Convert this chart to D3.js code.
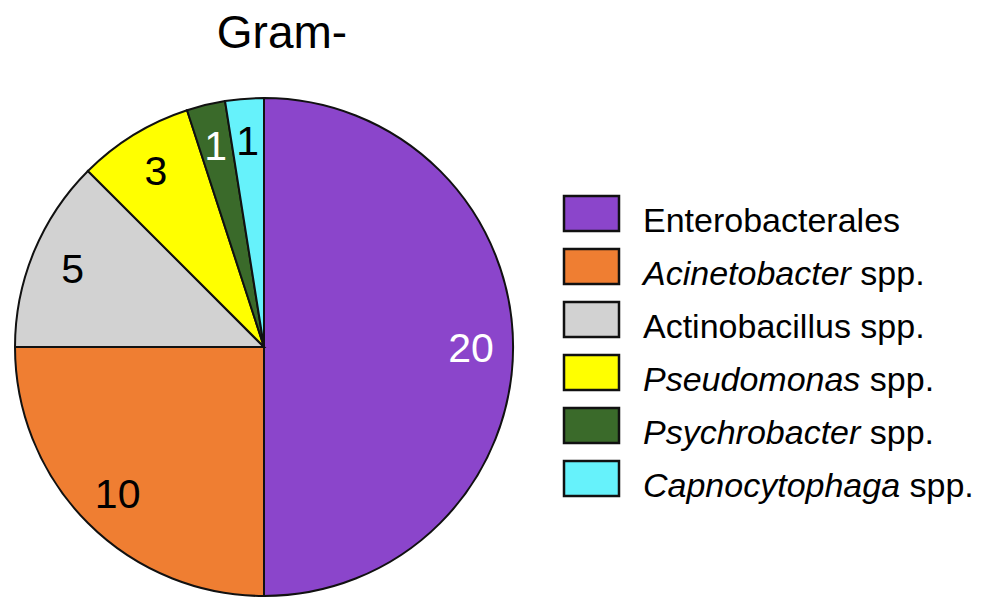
<!DOCTYPE html>
<html>
<head>
<meta charset="utf-8">
<script src="https://d3js.org/d3.v7.min.js"></script>
<style>
  body { margin: 0; background: #fff; }
  svg { font-family: Arial, "Liberation Sans", sans-serif; }
</style>
</head>
<body>
<svg id="chart" width="1000" height="615"></svg>
<script>
// data
const names = ["Enterobacterales", "Acinetobacter", "Actinobacillus", "Pseudomonas", "Psychrobacter", "Capnocytophaga"];
const italic = [false, true, false, true, true, true];
const counts = [20, 10, 5, 3, 1, 1];
const colors = ["#8b45cb", "#ef7e32", "#d2d2d2", "#ffff00", "#3a6a2a", "#66f2fb"];
const labelColors = ["#fff", "#000", "#000", "#000", "#fff", "#000"];

const svg = d3.select("#chart");
const cx = 264, cy = 347, r = 249;

svg.append("text")
    .attr("x", 282).attr("y", 48)
    .attr("text-anchor", "middle")
    .attr("font-size", 46)
    .text("Gram-");

const pie = d3.pie().sort(null).value(d => d)(counts);
const arc = d3.arc().innerRadius(0).outerRadius(r);
const labelArc = d3.arc().innerRadius(207).outerRadius(207);

const g = svg.append("g").attr("transform", `translate(${cx},${cy})`);

g.selectAll("path")
    .data(pie)
    .enter()
    .append("path")
    .attr("d", arc)
    .attr("fill", (d, i) => colors[i])
    .attr("stroke", "#111")
    .attr("stroke-width", 2);

g.selectAll("text.lbl")
    .data(pie)
    .enter()
    .append("text")
    .attr("class", "lbl")
    .attr("transform", d => `translate(${labelArc.centroid(d)})`)
    .attr("text-anchor", "middle")
    .attr("dy", "0.36em")
    .attr("font-size", 41)
    .attr("fill", (d, i) => labelColors[i])
    .text(d => d.data);

// legend
const y = d3.scaleBand().domain(d3.range(names.length)).range([196, 514]);
const leg = svg.selectAll("g.leg")
    .data(names)
    .enter()
    .append("g")
    .attr("class", "leg")
    .attr("transform", (d, i) => `translate(564,${y(i)})`);

leg.append("rect")
    .attr("width", 55).attr("height", 35)
    .attr("fill", (d, i) => colors[i])
    .attr("stroke", "#111")
    .attr("stroke-width", 2.5);

const t = leg.append("text")
    .attr("x", 79).attr("y", 36)
    .attr("font-size", 34);
t.append("tspan")
    .attr("font-style", (d, i) => italic[i] ? "italic" : "normal")
    .text(d => d);
t.append("tspan")
    .text((d, i) => i === 0 ? "" : " spp.");
</script>
</body>
</html>
